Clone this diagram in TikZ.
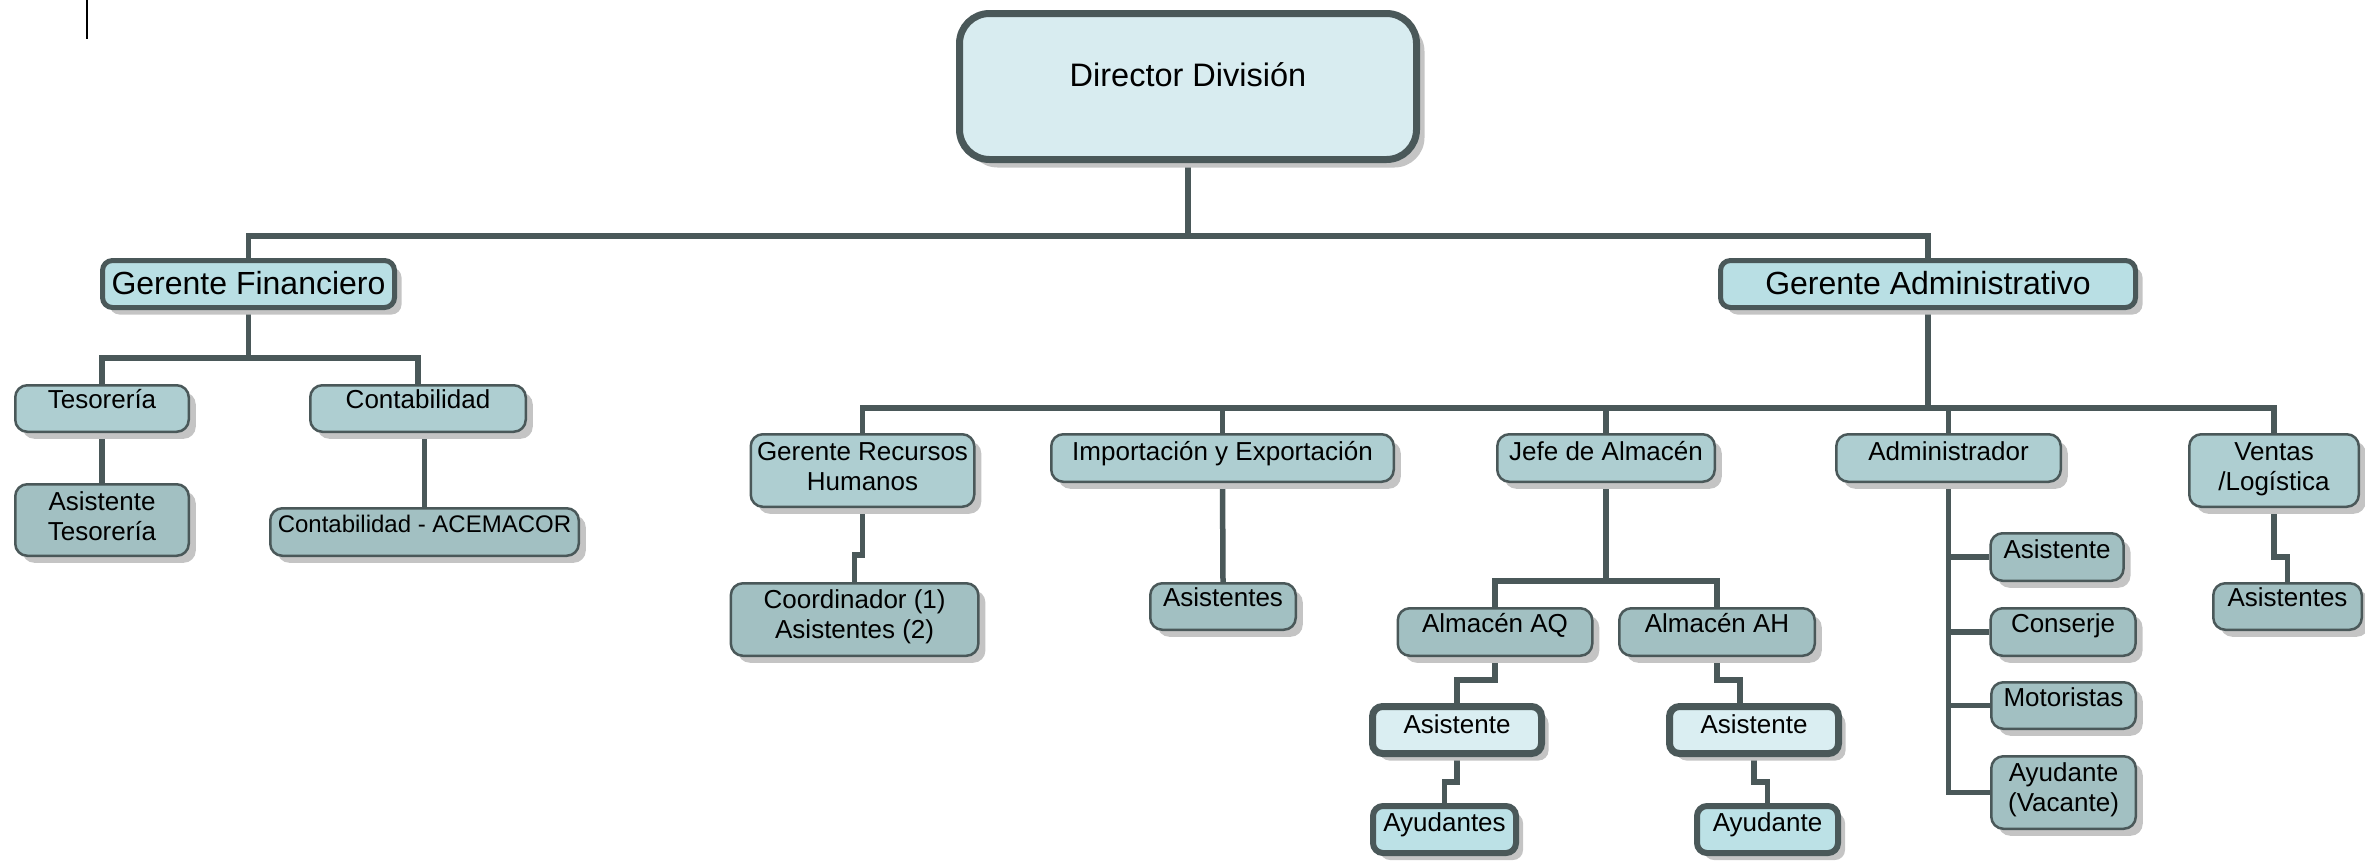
\documentclass[tikz,border=0pt]{standalone}
\usepackage{fontspec}
\setmainfont{Liberation Sans}
\usetikzlibrary{shadows,backgrounds}
\definecolor{bord}{RGB}{74,88,89}
\definecolor{cdir}{RGB}{216,236,240}
\definecolor{cgf}{RGB}{185,223,228}
\definecolor{cltwo}{RGB}{174,206,209}
\definecolor{clthree}{RGB}{162,192,194}
\definecolor{casis}{RGB}{218,238,242}
\definecolor{cayu}{RGB}{188,225,230}
\definecolor{shad}{RGB}{196,196,196}
\begin{document}
\begin{tikzpicture}[x=1pt,y=-1pt,
  sh/.style={drop shadow={shadow xshift=7pt,shadow yshift=-7pt,fill=shad,opacity=1}},
  boxbase/.style={draw=bord, line width=2.5pt, rounded corners=12pt, inner sep=0pt},
  ltwo/.style={boxbase, sh, fill=cltwo},
  lthree/.style={boxbase, sh, fill=clthree},
  topbox/.style={boxbase, sh, fill=cgf, line width=5pt, rounded corners=10pt},
  dirbox/.style={boxbase, fill=cdir, line width=7pt, rounded corners=30pt,
     drop shadow={shadow xshift=8pt,shadow yshift=-8pt,fill=shad,opacity=1}},
  thk/.style={boxbase, sh, fill=casis, line width=7pt, rounded corners=10pt},
  ayb/.style={boxbase, sh, fill=cayu, line width=6pt, rounded corners=10pt},
  tb/.style={inner sep=0pt, anchor=base, font=\fontsize{26}{30}\selectfont},
  tm/.style={inner sep=0pt, anchor=north, align=center, font=\fontsize{26}{30}\selectfont},
  conn/.style={draw=bord, line width=5.5pt}
]
\useasboundingbox (0,0) rectangle (2365,863);

% stray mark at top-left
\draw[line width=2pt, black] (87,0) -- (87,39);

% boxes
\node[dirbox, minimum width=457pt, minimum height=146pt] (dir) at (1188,86.5) {};
\node[topbox, minimum width=292pt, minimum height=47pt] (gf) at (248.5,284) {};
\node[topbox, minimum width=415pt, minimum height=47pt] (ga) at (1928,284) {};
\node[ltwo, minimum width=173.5pt, minimum height=46.5pt] (tes) at (102,408.5) {};
\node[ltwo, minimum width=215.5pt, minimum height=46.5pt] (cont) at (418,408.5) {};
\node[lthree, minimum width=173.5pt, minimum height=71.5pt] (ates) at (102,520) {};
\node[lthree, minimum width=308.5pt, minimum height=47.5pt] (acem) at (424.5,532) {};
\node[ltwo, minimum width=223.5pt, minimum height=72.5pt] (grh) at (862.5,470.5) {};
\node[lthree, minimum width=247.5pt, minimum height=72.5pt] (coord) at (854.6,619.5) {};
\node[ltwo, minimum width=342.5pt, minimum height=47.5pt] (imp) at (1222.5,458) {};
\node[lthree, minimum width=145.5pt, minimum height=46.5pt] (aimp) at (1223,606.5) {};
\node[ltwo, minimum width=217.5pt, minimum height=47.5pt] (jefe) at (1606,458) {};
\node[ltwo, minimum width=224.5pt, minimum height=47.5pt] (adm) at (1948.5,458) {};
\node[ltwo, minimum width=169.5pt, minimum height=72.5pt] (ven) at (2274,470.5) {};
\node[lthree, minimum width=133pt, minimum height=47.5pt] (aad) at (2057,557) {};
\node[lthree, minimum width=145pt, minimum height=47.5pt] (cons) at (2063,632) {};
\node[lthree, minimum width=144.5pt, minimum height=46.5pt] (mot) at (2063.5,705.5) {};
\node[lthree, minimum width=144.5pt, minimum height=72.5pt] (avac) at (2063.5,792.5) {};
\node[lthree, minimum width=148.5pt, minimum height=46.5pt] (aven) at (2287.5,606.5) {};
\node[lthree, minimum width=194.5pt, minimum height=47.5pt] (aq) at (1495,632) {};
\node[lthree, minimum width=195.5pt, minimum height=47.5pt] (ah) at (1717,632) {};
\node[thk, minimum width=169pt, minimum height=47pt] (asaq) at (1457,730) {};
\node[thk, minimum width=169pt, minimum height=47pt] (asah) at (1754,730) {};
\node[ayb, minimum width=143pt, minimum height=47pt] (ayus) at (1444.5,829.5) {};
\node[ayb, minimum width=141pt, minimum height=47pt] (ayu) at (1767.5,829.5) {};

% texts
\node[tb, font=\fontsize{32.5}{36}\selectfont] (tdir) at ([yshift=-76pt]dir.north) {Director División};
\node[tb, font=\fontsize{32}{36}\selectfont] (tgf) at ([yshift=-36pt]gf.north) {Gerente Financiero};
\node[tb, font=\fontsize{32}{36}\selectfont] (tga) at ([yshift=-36pt]ga.north) {Gerente Administrativo};
\node[tb] (ttes) at ([yshift=-24pt]tes.north) {Tesorería};
\node[tb] (tcont) at ([yshift=-24pt]cont.north) {Contabilidad};
\node[tm] (tates) at ([yshift=-8pt]ates.north) {Asistente\\Tesorería};
\node[tb, font=\fontsize{24}{28}\selectfont] (tacem) at ([yshift=-25pt]acem.north) {Contabilidad - ACEMACOR};
\node[tm] (tgrh) at ([yshift=-9pt]grh.north) {Gerente Recursos\\Humanos};
\node[tm] (tcoord) at ([yshift=-7pt]coord.north) {Coordinador (1)\\Asistentes (2)};
\node[tb] (timp) at ([yshift=-27pt]imp.north) {Importación y Exportación};
\node[tb] (taimp) at ([yshift=-24pt]aimp.north) {Asistentes};
\node[tb] (tjefe) at ([yshift=-27pt]jefe.north) {Jefe de Almacén};
\node[tb] (tadm) at ([yshift=-27pt]adm.north) {Administrador};
\node[tm] (tven) at ([yshift=-9pt]ven.north) {Ventas\\/Logística};
\node[tb] (taad) at ([yshift=-26pt]aad.north) {Asistente};
\node[tb] (tcons) at ([yshift=-25pt]cons.north) {Conserje};
\node[tb] (tmot) at ([yshift=-25pt]mot.north) {Motoristas};
\node[tm] (tavac) at ([yshift=-7pt]avac.north) {Ayudante\\(Vacante)};
\node[tb] (taven) at ([yshift=-24pt]aven.north) {Asistentes};
\node[tb] (taq) at ([yshift=-25pt]aq.north) {Almacén AQ};
\node[tb] (tah) at ([yshift=-25pt]ah.north) {Almacén AH};
\node[tb] (tasaq) at ([yshift=-30.8pt]asaq.north) {Asistente};
\node[tb] (tasah) at ([yshift=-30.8pt]asah.north) {Asistente};
\node[tb] (tayus) at ([yshift=-28.3pt]ayus.north) {Ayudantes};
\node[tb] (tayu) at ([yshift=-28.3pt]ayu.north) {Ayudante};

% bus levels and jogs
\coordinate (bzero) at (0,236);
\coordinate (bone) at (0,358);
\coordinate (btwo) at (0,408);
\coordinate (bthree) at (0,581);
\coordinate (jgrh) at (0,555);
\coordinate (jaq) at (0,680);
\coordinate (jaqb) at (0,782);
\coordinate (jven) at (0,557);
\coordinate (asahin) at ([xshift=-14pt]asah.north);

\begin{scope}[on background layer]
\draw[conn] (dir.south) -- (dir.south |- bzero);
\draw[conn] (gf.north) -- (gf.north |- bzero) -- (ga.north |- bzero) -- (ga.north);
\draw[conn] (gf.south) -- (gf.south |- bone);
\draw[conn] (tes.north) -- (tes.north |- bone) -- (cont.north |- bone) -- (cont.north);
\draw[conn] (tes.south) -- (ates.north);
\draw[conn] (acem.north) -- (acem.north |- cont.south);
\draw[conn] (ga.south) -- (ga.south |- btwo);
\draw[conn] (grh.north) -- (grh.north |- btwo) -- (ven.north |- btwo) -- (ven.north);
\draw[conn, yshift=-1.5pt] (imp.north |- btwo) -- (ga.south |- btwo);
\draw[conn] (imp.north) -- (imp.north |- btwo);
\draw[conn] (jefe.north) -- (jefe.north |- btwo);
\draw[conn] (adm.north) -- (adm.north |- btwo);
\draw[conn] (grh.south) -- (grh.south |- jgrh) -- (coord.north |- jgrh) -- (coord.north);
\draw[conn] (imp.south) -- (aimp.north);
\draw[conn] (jefe.south) -- (jefe.south |- bthree);
\draw[conn] (aq.north) -- (aq.north |- bthree) -- (ah.north |- bthree) -- (ah.north);
\draw[conn] (aq.south) -- (aq.south |- jaq) -- (asaq.north |- jaq) -- (asaq.north);
\draw[conn] (asaq.south) -- (asaq.south |- jaqb) -- (ayus.north |- jaqb) -- (ayus.north);
\draw[conn] (ah.south) -- (ah.south |- jaq) -- (asahin |- jaq) -- (asahin);
\draw[conn] (asah.south) -- (asah.south |- jaqb) -- (ayu.north |- jaqb) -- (ayu.north);
\draw[conn] (adm.south) |- (avac.west);
\draw[conn] (adm.south |- aad.west) -- (aad.west);
\draw[conn] (adm.south |- cons.west) -- (cons.west);
\draw[conn] (adm.south |- mot.west) -- (mot.west);
\draw[conn] (ven.south) -- (ven.south |- jven) -- (aven.north |- jven) -- (aven.north);
\end{scope}
\end{tikzpicture}
\end{document}
